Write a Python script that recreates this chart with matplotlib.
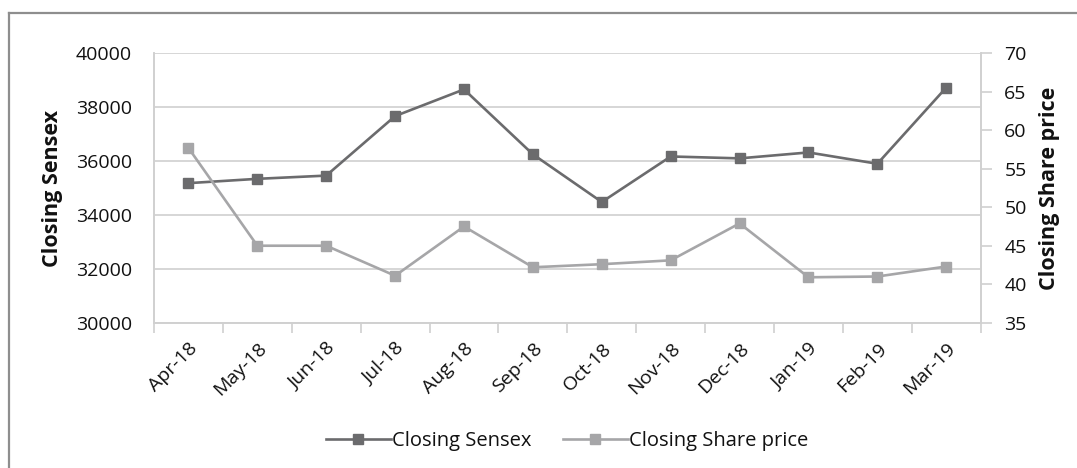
import matplotlib
matplotlib.use("Agg")
import matplotlib.pyplot as plt
from matplotlib.lines import Line2D

# datos
months = ["Apr-18", "May-18", "Jun-18", "Jul-18", "Aug-18", "Sep-18",
          "Oct-18", "Nov-18", "Dec-18", "Jan-19", "Feb-19", "Mar-19"]
sensex = [35180, 35340, 35460, 37670, 38660, 36250,
          34480, 36170, 36100, 36320, 35900, 38730]
share_price = [57.7, 45.0, 45.0, 41.1, 47.5, 42.2,
               42.6, 43.1, 47.9, 40.9, 41.0, 42.3]

DARK = "#6b6b6d"
LIGHT = "#a6a6a8"
GRID = "#d0d0d0"
TXT = "#111111"

plt.rcParams['font.family'] = ['Open Sans', 'DejaVu Sans']
plt.rcParams['font.size'] = 14

fig = plt.figure(figsize=(10.77, 4.68), dpi=100)
ax = fig.add_axes([0.1430, 0.3105, 0.7676, 0.5756])
ax2 = ax.twinx()

x = list(range(len(months)))
l1, = ax.plot(x, sensex, color=DARK, lw=1.9, marker='s', markersize=7, label='Closing Sensex', zorder=3)
l2, = ax2.plot(x, share_price, color=LIGHT, lw=1.9, marker='s', markersize=7, label='Closing Share price', zorder=3)

# --- eje izquierdo ---
ax.set_ylim(30000, 40000)
ax.set_yticks(range(30000, 40001, 2000))
ax.yaxis.grid(True, color=GRID, lw=1.2)
ax.set_axisbelow(True)
ax.tick_params(axis='y', length=0, pad=16, labelcolor=TXT)

# --- eje x con categorias ---
ax.set_xlim(-0.5, len(months) - 0.5)
ax.set_xticks(x)
ax.set_xticklabels(months, rotation=45, ha='right', va='top', rotation_mode='anchor')
ax.set_xticks([i - 0.5 for i in range(len(months) + 1)], minor=True)
ax.tick_params(axis='x', which='major', length=0, pad=12, labelcolor=TXT)
ax.tick_params(axis='x', which='minor', length=7, width=1.2, color=GRID, direction='out')

# --- eje derecho ---
ax2.set_ylim(35, 70)
ax2.set_yticks(range(35, 71, 5))
ax2.tick_params(axis='y', length=8, width=1.2, color=GRID, pad=9, labelcolor=TXT)

for a in (ax, ax2):
    a.spines['top'].set_visible(False)
    for side in ('left', 'right', 'bottom'):
        a.spines[side].set_color(GRID)
        a.spines[side].set_linewidth(1.2)

fig.text(53 / 1077, 0.598, 'Closing Sensex', rotation=90, ha='center', va='center',
         fontweight='bold', fontsize=15.5, color=TXT)
fig.text(1050 / 1077, 0.598, 'Closing Share price', rotation=90, ha='center', va='center',
         fontweight='bold', fontsize=15.5, color=TXT)

fig.legend(handles=[l1, l2], loc='center', bbox_to_anchor=(0.5265, 0.058), ncol=2,
           frameon=False, handlelength=3.2, handletextpad=0.05, columnspacing=1.6,
           fontsize=14.5, labelcolor=TXT)

# marco exterior (recortado a la derecha y abajo)
fig.add_artist(Line2D([9 / 1077, 9 / 1077], [0, 1 - 13 / 468], transform=fig.transFigure,
                      color='#8e8e8e', lw=1.6))
fig.add_artist(Line2D([9 / 1077, 1], [1 - 13 / 468, 1 - 13 / 468], transform=fig.transFigure,
                      color='#8e8e8e', lw=1.6))

fig.savefig('out.png', dpi=100, facecolor='white')
